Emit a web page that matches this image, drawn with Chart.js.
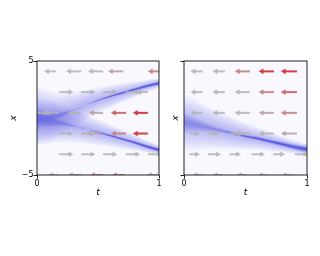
<!DOCTYPE html>
<html>
<head>
<meta charset="utf-8">
<script src="https://cdn.jsdelivr.net/npm/chart.js@4.4.1/dist/chart.umd.min.js"></script>
<style>
  body { margin: 0; background: #fff; }
  canvas { position: absolute; top: 0; }
</style>
</head>
<body>
<canvas id="left" width="165" height="256" style="left:0px"></canvas>
<canvas id="right" width="160" height="256" style="left:160px"></canvas>
<script>
// quiver rows (x) and axis ticks
const xRows = [4.09, 2.27, 0.45, -1.36, -3.18, -5];
const tTicks = [0, 1];
const tTickLabels = ['0', '1'];
const xTicks = [-5, 5];
const xTickLabels = ['\u22125', '5'];

// arrows: [row index, tail t, head t, speed level]
const leftArrows = [
  [0, 0.158, 0.084, 0], [0, 0.362, 0.264, 0], [0, 0.542, 0.444, 0], [0, 0.706, 0.608, 1], [0, 1.016, 0.934, 2],
  [1, 0.182, 0.272, 0], [1, 0.362, 0.452, 0], [1, 0.542, 0.632, 0], [1, 0.727, 0.820, 0], [1, 0.909, 0.840, 0],
  [2, 0.000, 0.068, 0], [2, 0.174, 0.084, 0], [2, 0.362, 0.280, 0], [2, 0.542, 0.452, 1], [2, 0.730, 0.632, 3], [2, 0.909, 0.812, 4],
  [3, 0.182, 0.272, 0], [3, 0.362, 0.452, 0], [3, 0.518, 0.430, 1], [3, 0.730, 0.632, 2], [3, 0.909, 0.812, 4],
  [4, 0.182, 0.272, 0], [4, 0.362, 0.452, 0], [4, 0.542, 0.632, 0], [4, 0.727, 0.820, 0], [4, 0.909, 1.000, 0],
  [5, 0.174, 0.117, 0], [5, 0.370, 0.280, 1], [5, 0.542, 0.460, 2], [5, 0.722, 0.640, 2], [5, 1.000, 0.926, 1]
];
const rightArrows = [
  [0, 0.152, 0.079, 0], [0, 0.332, 0.258, 0], [0, 0.536, 0.438, 2], [0, 0.731, 0.633, 4], [0, 0.918, 0.813, 4],
  [1, 0.152, 0.079, 0], [1, 0.332, 0.258, 0], [1, 0.536, 0.438, 0], [1, 0.731, 0.633, 2], [1, 0.918, 0.813, 3],
  [2, 0.152, 0.079, 0], [2, 0.332, 0.258, 0], [2, 0.536, 0.438, 0], [2, 0.731, 0.633, 1], [2, 0.918, 0.813, 2],
  [3, 0.046, 0.104, 0], [3, 0.193, 0.267, 0], [3, 0.372, 0.454, 0], [3, 0.536, 0.446, 0], [3, 0.731, 0.633, 0], [3, 0.918, 0.813, 1],
  [4, 0.044, 0.104, 0], [4, 0.193, 0.275, 0], [4, 0.370, 0.438, 0], [4, 0.549, 0.633, 0], [4, 0.725, 0.796, 0], [4, 0.902, 0.984, 0],
  [5, 0.152, 0.095, 0], [5, 0.315, 0.258, 0], [5, 0.511, 0.454, 0], [5, 0.682, 0.625, 0], [5, 0.886, 0.820, 0]
];
const arrowColors = ['rgba(180,180,180,0.85)', 'rgba(188,160,160,0.88)', 'rgba(195,130,130,0.9)', 'rgba(200,95,95,0.9)', 'rgba(210,55,55,0.95)'];

// density bands: centre line and widths (in x units) read along t
const bandT = [0, 0.1, 0.2, 0.3, 0.4, 0.5, 0.6, 0.7, 0.8, 0.9, 1.0];
const upperCenter = [0.2, 0.1, 0.3, 0.7, 1.15, 1.55, 1.9, 2.2, 2.5, 2.8, 3.05];
const upperHalo   = [2.6, 2.3, 1.9, 1.6, 1.35, 1.15, 1.0, 0.85, 0.7, 0.55, 0.45];
const upperMid    = [0.6, 0.5, 0.25, 0.05, 0.0, 0.05, 0.1, 0.12, 0.15, 0.17, 0.2];
const upperDark   = [0, 0, 0, 0, 0, 0.02, 0.05, 0.07, 0.09, 0.11, 0.12];
const lowerCenter = [-0.3, -0.3, -0.45, -0.7, -0.95, -1.25, -1.55, -1.85, -2.15, -2.5, -2.8];
const lowerHalo   = [2.0, 1.9, 1.7, 1.5, 1.3, 1.15, 1.0, 0.85, 0.7, 0.55, 0.45];
const lowerMid    = [0.6, 0.5, 0.25, 0.05, 0.0, 0.05, 0.1, 0.12, 0.15, 0.17, 0.2];
const lowerDark   = [0, 0, 0, 0, 0, 0.03, 0.06, 0.08, 0.1, 0.12, 0.14];
const singleCenter = [-0.4, -0.6, -0.85, -1.1, -1.35, -1.6, -1.8, -2.05, -2.3, -2.55, -2.75];
const singleHalo   = [2.5, 2.2, 1.9, 1.65, 1.4, 1.2, 1.0, 0.85, 0.7, 0.6, 0.5];
const singleMid    = [0.9, 0.6, 0.35, 0.2, 0.15, 0.15, 0.2, 0.2, 0.25, 0.3, 0.35];
const singleDark   = [0, 0, 0, 0, 0.03, 0.06, 0.08, 0.1, 0.12, 0.15, 0.2];

const FONT = 'DejaVu Sans';

function arrowSets(list) {
  return list.map(([row, t0, t1, lvl]) => ({
    data: [{x: t0, y: xRows[row]}, {x: t1, y: xRows[row]}],
    borderColor: arrowColors[lvl],
    backgroundColor: arrowColors[lvl],
    borderWidth: 2,
    pointRadius: [0, 3.2],
    pointHoverRadius: 0,
    pointBorderWidth: 0,
    pointStyle: 'triangle',
    pointRotation: t1 > t0 ? 90 : -90,
    fill: false,
    clip: 0,
    order: 0
  }));
}

// stacked translucent fills between centre +/- width, thin layers for a soft edge
function bandSets(center, halo, mid, dark) {
  const sets = [];
  const layers = [
    [halo, 12, 'rgba(95,95,240,0.045)'],
    [mid, 6, 'rgba(80,80,235,0.08)'],
    [dark, 4, 'rgba(40,40,225,0.24)']
  ];
  layers.forEach(([w, n, col]) => {
    for (let k = 1; k <= n; k++) {
      const f = k / n;
      sets.push({
        data: bandT.map((t, i) => ({x: t, y: center[i] + w[i] * f})),
        fill: '+1', backgroundColor: col, borderColor: 'transparent',
        borderWidth: 0, pointRadius: 0, tension: 0.3, order: 10
      });
      sets.push({
        data: bandT.map((t, i) => ({x: t, y: center[i] - w[i] * f})),
        fill: false, borderColor: 'transparent',
        borderWidth: 0, pointRadius: 0, tension: 0.3, order: 10
      });
    }
  });
  return sets;
}

const frame = {
  id: 'frame',
  beforeDraw(chart) {
    const a = chart.chartArea, c = chart.ctx;
    c.save();
    c.fillStyle = '#f8f8fe';
    c.fillRect(a.left, a.top, a.right - a.left, a.bottom - a.top);
    c.restore();
  },
  afterDraw(chart) {
    const a = chart.chartArea, c = chart.ctx;
    c.save();
    c.strokeStyle = '#222';
    c.lineWidth = 1;
    c.strokeRect(a.left, a.top, a.right - a.left, a.bottom - a.top);
    c.restore();
  }
};

function makeChart(id, datasets, yWidth, showYLabels, titlePad, padRight) {
  return new Chart(document.getElementById(id), {
    type: 'line',
    data: { datasets: datasets },
    options: {
      responsive: false,
      animation: false,
      devicePixelRatio: 1,
      events: [],
      layout: { padding: { top: 61, right: padRight, bottom: 58, left: 0 } },
      plugins: { legend: { display: false }, tooltip: { enabled: false } },
      scales: {
        x: {
          type: 'linear', min: 0, max: 1,
          afterBuildTicks: s => { s.ticks = tTicks.map(v => ({value: v})); },
          afterFit: s => { s.height = 23; },
          ticks: { callback: (v, i) => tTickLabels[i], font: {family: FONT, size: 8}, color: '#000', padding: 1, maxRotation: 0 },
          grid: { drawOnChartArea: false, tickLength: 3.5, tickColor: '#222' },
          border: { display: false },
          title: { display: true, text: 't', font: {family: FONT, size: 9, style: 'italic'}, color: '#000', padding: 0 }
        },
        y: {
          type: 'linear', min: -5, max: 5,
          afterBuildTicks: s => { s.ticks = xTicks.map(v => ({value: v})); },
          afterFit: s => { s.width = yWidth; },
          ticks: { display: showYLabels, callback: (v, i) => xTickLabels[i], font: {family: FONT, size: 8}, color: '#000', padding: 0 },
          grid: { drawOnChartArea: false, tickLength: 3.5, tickColor: '#222' },
          border: { display: false },
          title: { display: true, text: 'x', font: {family: FONT, size: 9, style: 'italic'}, color: '#000', padding: { top: titlePad, bottom: 0 } }
        }
      }
    },
    plugins: [frame]
  });
}

makeChart('left',
  arrowSets(leftArrows)
    .concat(bandSets(upperCenter, upperHalo, upperMid, upperDark))
    .concat(bandSets(lowerCenter, lowerHalo, lowerMid, lowerDark)),
  37, true, 8, 6);

makeChart('right',
  arrowSets(rightArrows).concat(bandSets(singleCenter, singleHalo, singleMid, singleDark)),
  24, false, 10.5, 13);
</script>
</body>
</html>
